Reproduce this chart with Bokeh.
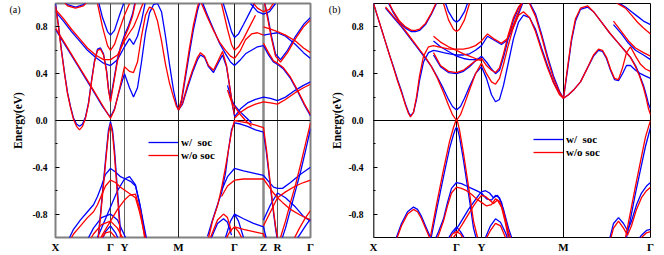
from bokeh.plotting import figure
from bokeh.layouts import row
from bokeh.models import (Range1d, FixedTicker, Span, Legend, LegendItem,
                          PrintfTickFormatter, LinearAxis)
from bokeh.embed import file_html
from bokeh.resources import INLINE

BLUE = "#0000ff"
RED = "#ff0000"
LW = 1.3
SERIF = "Liberation Serif"

# ---------------- panel (a): k-path ticks ----------------
a_ticks = [0, 0.55, 0.69, 1.23, 1.79, 2.08, 2.22, 2.55]
a_labels = ["X", "Γ", "Y", "M", "Γ", "Z", "R", "Γ"]

# ---------------- panel (a): bands (k, E with SOC, E without SOC) ----------------
a1_k = [0, .03, .06, .09, .12, .15, .18, .21, .24, .27, .30, .33, .36, .39, .42, .45, .48, .51, .53, .55]
a1_blue = [1.0, .81, .60, .41, .24, .12, .02, -.03, -.05, -.03, .03, .15, .34, .51, .61, .62, .57, .43, .27, .17]
a1_red = [.98, .80, .59, .40, .23, .11, .01, -.05, -.08, -.05, .02, .14, .33, .50, .60, .61, .56, .42, .26, .16]

a1c_k = [.55, .58, .62, .65, .69, .73, .77, .80]
a1c_blue = [.18, .33, .53, .63, .73, .81, .91, 1.03]
a1c_red = [.16, .31, .51, .61, .71, .79, .89, 1.01]

a2_k = [0, .10, .20, .30, .40, .47, .52, .55, .59, .64, .69, .74, .78, .82, .86, .90, .94, .98, 1.02, 1.06, 1.10, 1.14, 1.18, 1.21, 1.23]
a2_blue = [.78, .64, .50, .36, .22, .12, .06, .03, .10, .26, .40, .28, .20, .28, .50, .75, .92, .99, 1.0, .93, .72, .48, .26, .14, .09]
a2_red = [.79, .65, .51, .37, .23, .13, .06, .02, .09, .27, .46, .42, .41, .50, .72, .90, .97, .95, .85, .68, .48, .32, .20, .12, .09]

a3_k = [0, .08, .16, .24, .32, .40, .48, .55, .62, .69, .74, .78, .82, .86, .90]
a3_blue = [.93, .85, .76, .68, .60, .54, .49, .47, .52, .63, .70, .65, .72, .85, 1.02]
a3_red = [.95, .87, .78, .70, .62, .56, .52, .52, .56, .68, .75, .80, .88, .97, 1.05]

a4_k = [.42, .47, .52, .55, .59, .64, .69, .74]
a4_blue = [1.05, .88, .76, .73, .77, .90, 1.02, 1.1]
a4_red = [1.0, .80, .64, .60, .65, .78, .90, 1.0]

a5_k = [.05, .12, .20, .28, .35]
a5_blue = [1.05, .99, .97, .99, 1.05]
a5_red = [1.04, .98, .96, .98, 1.04]

a6_k = [1.23, 1.26, 1.30, 1.34, 1.38, 1.42, 1.45]
a6_blue = [.09, .16, .37, .58, .78, .94, 1.03]
a6_red = [.09, .18, .40, .62, .82, .97, 1.05]

a7_k = [1.23, 1.27, 1.32, 1.37, 1.42, 1.45, 1.49, 1.53, 1.58, 1.62, 1.67, 1.71, 1.74, 1.77, 1.79]
a7_blue = [.09, .14, .28, .41, .52, .56, .54, .46, .41, .48, .56, .46, .30, .13, .04]
a7_red = [.09, .15, .30, .43, .54, .58, .55, .47, .43, .50, .59, .47, .30, .13, .05]

a8_k = [1.45, 1.52, 1.58, 1.64, 1.70, 1.75, 1.79, 1.85, 1.90, 1.96, 2.02, 2.08]
a8_blue = [1.05, .90, .78, .66, .57, .50, .47, .52, .57, .60, .63, .64]
a8_red = [1.02, .88, .77, .67, .60, .55, .53, .60, .69, .74, .75, .73]

a9_k = [1.66, 1.72, 1.76, 1.79, 1.83, 1.88, 1.94, 2.0]
a9_blue = [1.05, .88, .76, .71, .74, .82, .92, 1.02]
a9_red = [1.0, .78, .65, .60, .63, .70, .80, .90]

a10_k = [2.08, 2.13, 2.18, 2.22, 2.28, 2.35, 2.42, 2.49, 2.55]
a10_blue = [.64, .56, .50, .48, .44, .36, .25, .13, .04]
a10_red = [.66, .58, .51, .49, .45, .37, .26, .14, .05]

a11_k = [2.08, 2.12, 2.16, 2.20, 2.25, 2.32, 2.40, 2.48, 2.55]
a11_blue = [1.05, .90, .72, .57, .52, .60, .72, .82, .88]
a11_red = [1.05, .88, .70, .55, .50, .58, .70, .80, .86]

a12_k = [2.08, 2.15, 2.22, 2.30, 2.40, 2.48, 2.55]
a12_blue = [.73, .74, .75, .72, .65, .58, .53]
a12_red = [.80, .78, .76, .73, .68, .62, .58]

a13_k = [1.95, 2.02, 2.08, 2.14, 2.20]
a13_blue = [1.0, .93, .91, .93, 1.0]
a13_red = [1.03, .96, .93, .95, 1.03]

a14_k = [1.79, 1.85, 1.92, 2.0, 2.08, 2.15, 2.22, 2.30, 2.40, 2.48, 2.55]
a14_blue = [.03, .10, .15, .18, .20, .19, .17, .20, .26, .30, .33]
a14_red = [.02, .07, .11, .14, .16, .15, .14, .18, .24, .28, .31]

a15_k = [1.72, 1.76, 1.79, 1.84, 1.90, 1.96]
a15_blue = [.30, .18, .13, .08, .03, -.02]
a15_red = [.26, .16, .12, .06, .0, -.05]

va1_k = [.42, .45, .48, .51, .53, .55, .57, .59, .62, .65]
va1_blue = [-1.05, -.80, -.52, -.25, -.08, -.01, -.08, -.25, -.60, -.95]
va1_red = [-1.07, -.82, -.55, -.28, -.11, -.03, -.11, -.30, -.65, -1.0]

va2_k = [.13, .18, .25, .32, .38, .42, .46, .50, .55, .60, .65, .70, .75, .80, .84, .88, .92]
va2_blue = [-1.02, -.93, -.85, -.78, -.72, -.65, -.56, -.46, -.41, -.44, -.48, -.50, -.52, -.56, -.70, -.88, -1.05]
va2_red = [-1.05, -.97, -.90, -.83, -.78, -.72, -.64, -.56, -.51, -.53, -.57, -.60, -.63, -.66, -.78, -.93, -1.08]

va3_k = [.42, .48, .55, .62, .69, .74, .80, .85, .90]
va3_blue = [-1.0, -.88, -.74, -.60, -.50, -.48, -.55, -.75, -1.0]
va3_red = [-1.05, -.96, -.86, -.76, -.68, -.64, -.63, -.78, -1.05]

va4_k = [.30, .38, .46, .55, .62, .70]
va4_blue = [-1.05, -.92, -.83, -.80, -.85, -1.0]
va4_red = [-1.08, -.97, -.89, -.86, -.92, -1.05]

va5_k = [.45, .50, .55, .60, .65]
va5_blue = [-1.05, -.95, -.90, -.96, -1.05]
va5_red = [-1.02, -.96, -.95, -1.0, -1.05]

va6_k = [1.52, 1.57, 1.62, 1.66, 1.70, 1.73, 1.76, 1.79, 1.85, 1.92, 2.0, 2.08, 2.11, 2.14, 2.17, 2.20, 2.23]
va6_blue = [-.99, -.85, -.72, -.62, -.45, -.25, -.08, -.02, -.03, -.05, -.08, -.10, -.28, -.50, -.72, -.92, -1.08]
va6_red = [-1.04, -.86, -.73, -.58, -.40, -.25, -.10, 0.0, -.01, -.02, -.04, -.06, -.25, -.48, -.70, -.90, -1.05]

va7_k = [1.66, 1.72, 1.79, 1.88, 1.98, 2.08, 2.13, 2.18, 2.22, 2.27, 2.35, 2.45, 2.55]
va7_blue = [-.60, -.48, -.41, -.43, -.45, -.47, -.52, -.57, -.58, -.58, -.53, -.46, -.40]
va7_red = [-.65, -.56, -.51, -.50, -.50, -.50, -.56, -.62, -.66, -.70, -.76, -.81, -.85]

va8_k = [2.08, 2.15, 2.22, 2.30, 2.40, 2.48, 2.55]
va8_blue = [-.85, -.72, -.62, -.66, -.74, -.82, -.86]
va8_red = [-.90, -.78, -.66, -.61, -.56, -.53, -.51]

va9_k = [2.25, 2.30, 2.35, 2.40, 2.45, 2.50, 2.55]
va9_blue = [-1.05, -.92, -.76, -.60, -.44, -.26, -.07]
va9_red = [-1.0, -.86, -.70, -.55, -.38, -.20, -.02]

va10_k = [1.70, 1.75, 1.79, 1.83, 1.88]
va10_blue = [-1.0, -.86, -.80, -.86, -1.0]
va10_red = [-1.02, -.94, -.91, -.95, -1.03]

va11_k = [1.79, 1.88, 1.98, 2.08, 2.12]
va11_blue = [-.80, -.84, -.88, -.91, -1.05]
va11_red = [-.91, -.93, -.95, -.97, -1.08]

va12_k = [1.55, 1.62, 1.68, 1.72, 1.76]
va12_blue = [-1.02, -.88, -.84, -.87, -.98]
va12_red = [-1.0, -.85, -.80, -.83, -.95]

va13_k = [2.38, 2.44, 2.50, 2.55]
va13_blue = [-1.05, -.98, -.90, -.84]
va13_red = [-1.02, -.92, -.83, -.77]

# ---------------- panel (b): k-path ticks ----------------
b_ticks = [0, 0.83, 1.08, 1.90, 2.77]
b_labels = ["X", "Γ", "Y", "M", "Γ"]

b1_k = [0, .04, .08, .12, .16, .20, .24, .28, .32, .35, .37, .40, .43, .46, .50, .55, .60, .65, .70, .76, .83, .90, .96, 1.02, 1.08, 1.14, 1.20, 1.28, 1.34, 1.40, 1.46, 1.50]
b1_blue = [1.0, .89, .78, .67, .56, .46, .35, .25, .14, .07, .04, .07, .18, .34, .50, .58, .60, .59, .58, .57, .56, .56, .57, .60, .64, .72, .69, .65, .69, .80, .93, 1.02]
b1_red = [1.0, .89, .78, .67, .56, .45, .34, .24, .13, .06, .03, .07, .20, .38, .55, .63, .64, .63, .62, .61, .61, .61, .62, .64, .68, .74, .70, .66, .70, .82, .95, 1.03]

b2_k = [.14, .20, .26, .32, .38, .42, .46, .52, .58, .64]
b2_blue = [1.02, .92, .84, .79, .76, .76, .77, .82, .91, 1.02]
b2_red = [1.03, .93, .85, .80, .77, .77, .78, .83, .92, 1.03]

# diagonal band: top-left down into the Dirac-like crossing at Gamma, then Y-M hump
b3_k = [.12, .20, .28, .36, .44, .52, .58, .64, .70, .75, .79, .83, .87, .91, .96, 1.02, 1.08, 1.13, 1.18, 1.22, 1.26, 1.30, 1.35, 1.40, 1.45, 1.50, 1.56, 1.62, 1.68, 1.74, 1.80, 1.86, 1.90]
b3_blue = [.96, .88, .80, .71, .62, .53, .46, .37, .27, .18, .12, .09, .12, .19, .29, .40, .46, .36, .22, .16, .18, .30, .50, .70, .84, .90, .88, .78, .62, .47, .33, .23, .19]
b3_red = [.97, .89, .81, .72, .63, .54, .46, .36, .24, .13, .05, .0, .05, .14, .26, .40, .49, .40, .33, .31, .36, .48, .65, .80, .90, .93, .88, .76, .60, .45, .32, .22, .19]

# U-shaped band at Gamma (~0.41 eV) continuing into the second Y-M hump
b4_k = [.60, .67, .75, .83, .90, .96, 1.02, 1.08, 1.13, 1.18, 1.22, 1.26, 1.30, 1.35, 1.40, 1.45, 1.50, 1.56, 1.62, 1.68, 1.74, 1.80, 1.86, 1.90]
b4_blue = [.56, .46, .41, .40, .42, .46, .51, .55, .50, .44, .40, .43, .54, .71, .86, .96, 1.02, 1.01, .91, .74, .55, .38, .25, .19]
b4_red = [.58, .47, .42, .41, .43, .47, .51, .53, .47, .43, .41, .45, .57, .74, .88, .97, 1.02, 1.0, .89, .72, .53, .36, .24, .19]

b5_k = [.70, .75, .80, .83, .86, .91, .96]
b5_blue = [1.05, .93, .86, .84, .86, .93, 1.05]
b5_red = [1.0, .86, .78, .76, .78, .86, 1.0]

b6_k = [.60, .67, .75, .83, .90, .96, 1.02, 1.08]
b6_blue = [.68, .63, .59, .55, .53, .52, .52, .53]
b6_red = [.72, .67, .63, .60, .57, .55, .53, .51]

b8_k = [1.90, 1.94, 1.98, 2.02, 2.07, 2.14, 2.20, 2.28, 2.36, 2.44, 2.52, 2.57, 2.62, 2.66, 2.70, 2.73, 2.75, 2.77]
b8_blue = [.19, .43, .68, .85, .95, .97, .93, .84, .75, .67, .59, .54, .47, .39, .30, .21, .14, .10]
b8_red = [.19, .45, .70, .87, .96, .98, .93, .84, .75, .67, .59, .54, .46, .38, .28, .18, .10, .05]

b9_k = [1.90, 1.95, 2.00, 2.07, 2.14, 2.20, 2.25, 2.29, 2.33, 2.37, 2.41, 2.45, 2.49, 2.53, 2.57, 2.62, 2.67, 2.72, 2.77]
b9_blue = [.19, .22, .26, .33, .45, .55, .60, .59, .53, .43, .35, .34, .40, .47, .47, .43, .40, .38, .36]
b9_red = [.19, .22, .26, .33, .45, .56, .61, .60, .54, .44, .36, .35, .45, .58, .63, .55, .48, .44, .42]

b10_k = [2.38, 2.46, 2.52, 2.58, 2.64, 2.70, 2.77]
b10_blue = [1.05, 1.0, .97, .93, .89, .85, .82]
b10_red = [1.03, .99, .96, .90, .84, .79, .74]

b11_k = [2.40, 2.48, 2.55, 2.62, 2.70, 2.77]
b11_blue = [.82, .74, .66, .60, .56, .52]
b11_red = [.85, .76, .68, .62, .58, .55]

b13_k = [.57, .63, .70, .76, .80, .82, .83, .84, .86, .90, .96, 1.00, 1.04]
b13_blue = [-1.03, -.77, -.48, -.24, -.12, -.07, -.06, -.07, -.14, -.34, -.68, -.92, -1.05]
b13_red = [-.99, -.72, -.42, -.18, -.06, -.01, 0.0, -.01, -.08, -.28, -.62, -.86, -1.0]

b14_k = [.60, .65, .70, .74, .78, .83, .88, .93, .98, 1.03, 1.08, 1.13, 1.18, 1.22, 1.26, 1.30, 1.35, 1.40]
b14_blue = [-1.05, -.95, -.84, -.70, -.58, -.53, -.54, -.56, -.58, -.60, -.62, -.67, -.68, -.64, -.66, -.76, -.92, -1.05]
b14_red = [-1.08, -.98, -.86, -.73, -.62, -.57, -.58, -.60, -.63, -.67, -.70, -.73, -.72, -.67, -.69, -.78, -.95, -1.08]

b15_k = [.80, .85, .90, .95, 1.00, 1.05, 1.08, 1.12, 1.16, 1.20, 1.24, 1.28, 1.32, 1.36]
b15_blue = [-.96, -.90, -.83, -.76, -.70, -.64, -.61, -.60, -.62, -.66, -.64, -.70, -.85, -1.02]
b15_red = [-1.0, -.94, -.87, -.80, -.73, -.67, -.64, -.65, -.68, -.71, -.68, -.74, -.88, -1.05]

b16_k = [.22, .28, .34, .40, .44, .48, .53, .57, .60]
b16_blue = [-1.02, -.88, -.78, -.74, -.76, -.82, -.92, -1.0, -1.06]
b16_red = [-1.04, -.90, -.80, -.76, -.78, -.84, -.94, -1.02, -1.08]

b17_k = [.74, .79, .83, .87, .92]
b17_blue = [-1.02, -.95, -.91, -.95, -1.02]
b17_red = [-1.04, -.97, -.95, -.97, -1.04]

b18_k = [1.12, 1.17, 1.22, 1.27, 1.32, 1.36]
b18_blue = [-1.0, -.90, -.84, -.87, -.96, -1.05]
b18_red = [-1.02, -.94, -.88, -.90, -1.0, -1.08]

b19_k = [2.52, 2.57, 2.62, 2.67, 2.72, 2.77]
b19_blue = [-1.04, -.84, -.62, -.42, -.22, -.06]
b19_red = [-1.0, -.78, -.56, -.35, -.14, .0]

b20_k = [2.35, 2.40, 2.45, 2.50, 2.54, 2.58, 2.63, 2.68, 2.73, 2.77]
b20_blue = [-1.05, -.88, -.83, -.88, -.94, -.86, -.72, -.62, -.56, -.53]
b20_red = [-1.08, -.92, -.86, -.92, -.98, -.90, -.76, -.66, -.60, -.57]

b21_k = [2.62, 2.68, 2.73, 2.77]
b21_blue = [-1.05, -.98, -.94, -.93]
b21_red = [-1.07, -1.0, -.96, -.95]

a_bands = [
    (a1_k, a1_blue, a1_red), (a1c_k, a1c_blue, a1c_red), (a2_k, a2_blue, a2_red),
    (a3_k, a3_blue, a3_red), (a4_k, a4_blue, a4_red), (a5_k, a5_blue, a5_red),
    (a6_k, a6_blue, a6_red), (a7_k, a7_blue, a7_red), (a8_k, a8_blue, a8_red),
    (a9_k, a9_blue, a9_red), (a10_k, a10_blue, a10_red), (a11_k, a11_blue, a11_red),
    (a12_k, a12_blue, a12_red), (a13_k, a13_blue, a13_red), (a14_k, a14_blue, a14_red),
    (a15_k, a15_blue, a15_red),
    (va1_k, va1_blue, va1_red), (va2_k, va2_blue, va2_red), (va3_k, va3_blue, va3_red),
    (va4_k, va4_blue, va4_red), (va5_k, va5_blue, va5_red), (va6_k, va6_blue, va6_red),
    (va7_k, va7_blue, va7_red), (va8_k, va8_blue, va8_red), (va9_k, va9_blue, va9_red),
    (va10_k, va10_blue, va10_red), (va11_k, va11_blue, va11_red), (va12_k, va12_blue, va12_red),
    (va13_k, va13_blue, va13_red),
]
b_bands = [
    (b1_k, b1_blue, b1_red), (b2_k, b2_blue, b2_red), (b3_k, b3_blue, b3_red),
    (b4_k, b4_blue, b4_red), (b5_k, b5_blue, b5_red), (b6_k, b6_blue, b6_red),
    (b8_k, b8_blue, b8_red), (b9_k, b9_blue, b9_red), (b10_k, b10_blue, b10_red),
    (b11_k, b11_blue, b11_red), (b13_k, b13_blue, b13_red),
    (b14_k, b14_blue, b14_red), (b15_k, b15_blue, b15_red), (b16_k, b16_blue, b16_red),
    (b17_k, b17_blue, b17_red), (b18_k, b18_blue, b18_red), (b19_k, b19_blue, b19_red),
    (b20_k, b20_blue, b20_red), (b21_k, b21_blue, b21_red),
]


def make_panel(width, bl, br, ticks, labels, bands, vlines, outline, tag, tag_standoff,
               leg_loc, tick_standoff, label_standoff):
    p = figure(width=width, height=255, output_backend="svg", toolbar_location=None,
               x_range=Range1d(ticks[0], ticks[-1]), y_range=Range1d(-1.0, 1.0),
               min_border_left=bl, min_border_right=br, min_border_top=3,
               min_border_bottom=18)
    p.background_fill_color = "white"
    p.border_fill_color = "white"
    p.xgrid.grid_line_color = None
    p.ygrid.grid_line_color = None
    p.outline_line_color = outline[0]
    p.outline_line_width = outline[1]

    for (k, xc, lw) in vlines:
        p.add_layout(Span(location=k, dimension="height", line_color=xc,
                          line_width=lw, level="underlay"))
    p.add_layout(Span(location=0, dimension="width", line_color="black",
                      line_width=1, level="underlay"))

    rb = rr = None
    for k, eb, er in bands:
        r = p.line(k, eb, line_color=BLUE, line_width=LW)
        rb = rb or r
    for k, eb, er in bands:
        r = p.line(k, er, line_color=RED, line_width=LW)
        rr = rr or r

    p.xaxis.ticker = FixedTicker(ticks=ticks)
    p.xaxis.major_label_overrides = {t: s for t, s in zip(ticks, labels)}
    p.xaxis.major_tick_line_color = None
    p.xaxis.minor_tick_line_color = None
    p.xaxis.major_tick_out = 0
    p.xaxis.major_tick_in = 0
    p.xaxis.minor_tick_out = 0
    p.xaxis.axis_line_color = None
    p.xaxis.major_label_standoff = 3
    p.xaxis.major_label_text_font = SERIF
    p.xaxis.major_label_text_font_style = "bold"
    p.xaxis.major_label_text_font_size = "11px"
    p.xaxis.major_label_text_color = "black"

    p.yaxis.ticker = FixedTicker(ticks=[-0.8, -0.4, 0.0, 0.4, 0.8],
                                 minor_ticks=[-0.6, -0.2, 0.2, 0.6])
    p.yaxis.formatter = PrintfTickFormatter(format="%.1f")
    p.yaxis.axis_line_color = None
    p.yaxis.major_tick_in = 4
    p.yaxis.major_tick_out = 0
    p.yaxis.minor_tick_in = 2
    p.yaxis.minor_tick_out = 0
    p.yaxis.major_tick_line_color = "black"
    p.yaxis.minor_tick_line_color = "black"
    p.yaxis.major_label_standoff = tick_standoff
    p.yaxis.major_label_text_font = SERIF
    p.yaxis.major_label_text_font_style = "bold"
    p.yaxis.major_label_text_font_size = "9.5px"
    p.yaxis.major_label_text_color = "black"
    p.yaxis.axis_label = "Energy(eV)"
    p.yaxis.axis_label_standoff = label_standoff
    p.yaxis.axis_label_text_font = SERIF
    p.yaxis.axis_label_text_font_style = "bold"
    p.yaxis.axis_label_text_font_size = "11.5px"
    p.yaxis.axis_label_text_color = "black"

    # panel tag "(a)"/"(b)": a label-only outer axis (annotations are clipped to the frame)
    tag_axis = LinearAxis(ticker=FixedTicker(ticks=[0.95], minor_ticks=[]),
                          major_label_overrides={0.95: tag},
                          axis_line_color=None, major_tick_line_color=None,
                          minor_tick_line_color=None, major_tick_in=0, major_tick_out=0,
                          minor_tick_in=0, minor_tick_out=0,
                          major_label_standoff=tag_standoff,
                          major_label_text_font=SERIF, major_label_text_font_size="10px",
                          major_label_text_color="black")
    p.add_layout(tag_axis, "left")

    leg = Legend(items=[LegendItem(label="w/  soc", renderers=[rb]),
                        LegendItem(label="w/o soc", renderers=[rr])],
                 location=leg_loc, border_line_color=None, background_fill_alpha=0,
                 padding=0, margin=0, spacing=1, glyph_width=30, glyph_height=12,
                 label_height=12, label_standoff=3, label_text_font=SERIF,
                 label_text_font_style="bold", label_text_font_size="11px",
                 label_text_color="black")
    p.add_layout(leg)
    return p


a_vlines = [(0.55, "#444444", 1), (0.69, "#666666", 1), (1.23, "#222222", 1),
            (1.79, "#222222", 1), (2.08, "#888888", 2.5), (2.22, "#555555", 1)]
b_vlines = [(0.0, "#888888", 2.5), (0.83, "#000000", 1), (1.08, "#000000", 1),
            (1.90, "#000000", 1)]

pa = make_panel(322, 55, 12, a_ticks, a_labels, a_bands, a_vlines, ("#808080", 2),
                "(a)", -11, (93, 76), 8, 5)
pb = make_panel(342, 51, 14, b_ticks, b_labels, b_bands, b_vlines, ("#000000", 1),
                "(b)", -12, (160, 79), 10, 2)

layout = row(pa, pb)
open("out.html", "w").write(file_html(layout, INLINE))
